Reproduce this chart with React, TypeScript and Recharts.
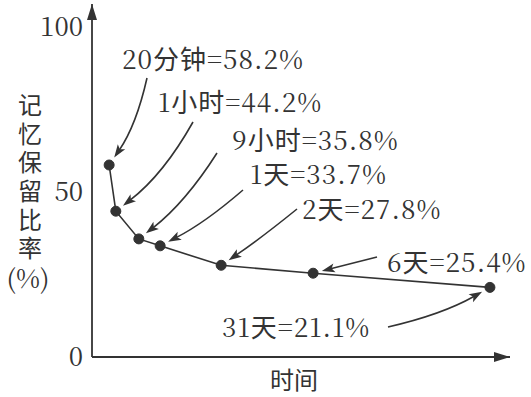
import React from 'react';
import { LineChart, Line, XAxis, YAxis, ReferenceDot, LabelList } from 'recharts';

// Ebbinghaus retention data as printed on the figure
const periods = ['20分钟', '1小时', '9小时', '1天', '2天', '6天', '31天'];
const retention = [58.2, 44.2, 35.8, 33.7, 27.8, 25.4, 21.1];
// the time axis is not drawn to scale in the source, so these are positions along it (0-100)
const timePos = [4.1, 5.7, 11.2, 16.3, 30.9, 52.9, 95.2];
const yTicks = [0, 50, 100];
const yTitle = '记忆保留比率';

const data = periods.map((p, i) => ({ period: p, t: timePos[i], value: retention[i] }));

const INK = '#333';
const SERIF = "'Noto Serif CJK SC', 'DejaVu Serif', serif";
const CJK = "'Noto Sans CJK SC', sans-serif";

// annotation layout: text left/center, arrow tail, curve bend
const notes = [
    { tx: 122, ty: 60, sx: 147, sy: 78, bend: 9 },
    { tx: 158, ty: 103, sx: 193, sy: 122, bend: 12 },
    { tx: 232, ty: 141, sx: 217, sy: 153, bend: 10 },
    { tx: 250, ty: 175, sx: 243, sy: 190, bend: 6 },
    { tx: 302, ty: 210, sx: 297, sy: 209, bend: 2 },
    { tx: 387, ty: 263, sx: 377, sy: 257, bend: 0 },
    { tx: 222, ty: 328, sx: 388, sy: 327, bend: -8 },
];

// serif digits, sans Chinese, as in the printed figure
const runs = (s: string) =>
    s.split(/([\u4e00-\u9fff]+)/).filter(Boolean).map((r, k) => (
        <tspan key={k} style={{ fontFamily: /[\u4e00-\u9fff]/.test(r) ? CJK : SERIF }}>
            {r}
        </tspan>
    ));

const renderNote = (props: any) => {
    const i = props.index;
    const n = notes[i];
    if (!n) return null;
    const px = props.x ?? props.viewBox?.x;
    const py = props.y ?? props.viewBox?.y;
    const dx = px - n.sx;
    const dy = py - n.sy;
    const len = Math.hypot(dx, dy) || 1;
    const cx = (n.sx + px) / 2 + (n.bend * dy) / len;
    const cy = (n.sy + py) / 2 + (-n.bend * dx) / len;
    // stop short of the dot
    const vx = cx - px;
    const vy = cy - py;
    const vl = Math.hypot(vx, vy) || 1;
    const ex = px + (vx / vl) * 9;
    const ey = py + (vy / vl) * 9;
    // arrow head along the end tangent
    let ux = ex - cx;
    let uy = ey - cy;
    const ul = Math.hypot(ux, uy) || 1;
    ux /= ul;
    uy /= ul;
    const headLen = 13;
    const headW = 4.5;
    const bx = ex - ux * headLen;
    const by = ey - uy * headLen;
    const head = `${ex},${ey} ${bx - uy * headW},${by + ux * headW} ${bx + ux * 3},${by + uy * 3} ${bx + uy * headW},${by - ux * headW}`;
    const label = `${periods[i]}=${retention[i].toFixed(1)}%`;
    return (
        <g key={`note-${i}`}>
            <path d={`M${n.sx},${n.sy} Q${cx},${cy} ${bx + ux * 4},${by + uy * 4}`} fill="none" stroke={INK} strokeWidth={1.6} />
            <polygon points={head} fill={INK} />
            <text x={n.tx} y={n.ty + 9} fontSize={26} letterSpacing={1} fill={INK}>
                {runs(label)}
            </text>
        </g>
    );
};

const YTitle = () => (
    <g>
        <text
            x={30}
            y={93}
            style={{ fontFamily: CJK, writingMode: 'vertical-rl', letterSpacing: 4.6 }}
            fontSize={24}
            fill={INK}
        >
            {yTitle}
        </text>
        <text x={28} y={288} textAnchor="middle" style={{ fontFamily: SERIF }} fontSize={26} fill={INK}>
            (%)
        </text>
    </g>
);

const XTitle = (props: any) => {
    const vb = props.viewBox || {};
    return (
        <text x={vb.x + vb.width / 2 - 7} y={389} textAnchor="middle" style={{ fontFamily: CJK }} fontSize={24} fill={INK}>
            时间
        </text>
    );
};

const UpArrow = (props: any) => (
    <polygon points={`${props.cx},${props.cy} ${props.cx - 5},${props.cy + 16} ${props.cx + 5},${props.cy + 16}`} fill={INK} />
);

const RightArrow = (props: any) => (
    <polygon points={`${props.cx},${props.cy} ${props.cx - 16},${props.cy - 5} ${props.cx - 16},${props.cy + 5}`} fill={INK} />
);

export default function App() {
    return (
        <div style={{ position: 'absolute', left: 0, top: 0, width: 531, height: 397, background: '#fff' }}>
            <LineChart width={531} height={397} data={data} margin={{ top: 4, right: 21, bottom: 0, left: 0 }}>
                <XAxis
                    type="number"
                    dataKey="t"
                    domain={[0, 100]}
                    tick={false}
                    tickLine={false}
                    height={40}
                    axisLine={{ stroke: INK, strokeWidth: 1.8 }}
                    label={{ content: XTitle }}
                />
                <YAxis
                    type="number"
                    domain={[0, 107]}
                    ticks={yTicks}
                    width={92}
                    tickLine={false}
                    tickSize={0}
                    tickMargin={9}
                    axisLine={{ stroke: INK, strokeWidth: 1.8 }}
                    tick={{ style: { fontFamily: SERIF }, fontSize: 26, fill: INK }}
                    label={{ content: YTitle }}
                />
                <ReferenceDot x={0} y={107} r={0} ifOverflow="visible" shape={UpArrow} />
                <ReferenceDot x={100} y={0} r={0} ifOverflow="visible" shape={RightArrow} />
                <Line
                    type="linear"
                    dataKey="value"
                    stroke={INK}
                    strokeWidth={1.6}
                    dot={{ r: 5, fill: INK, stroke: INK, strokeWidth: 1 }}
                    isAnimationActive={false}
                >
                    <LabelList dataKey="value" content={renderNote} />
                </Line>
            </LineChart>
        </div>
    );
}
